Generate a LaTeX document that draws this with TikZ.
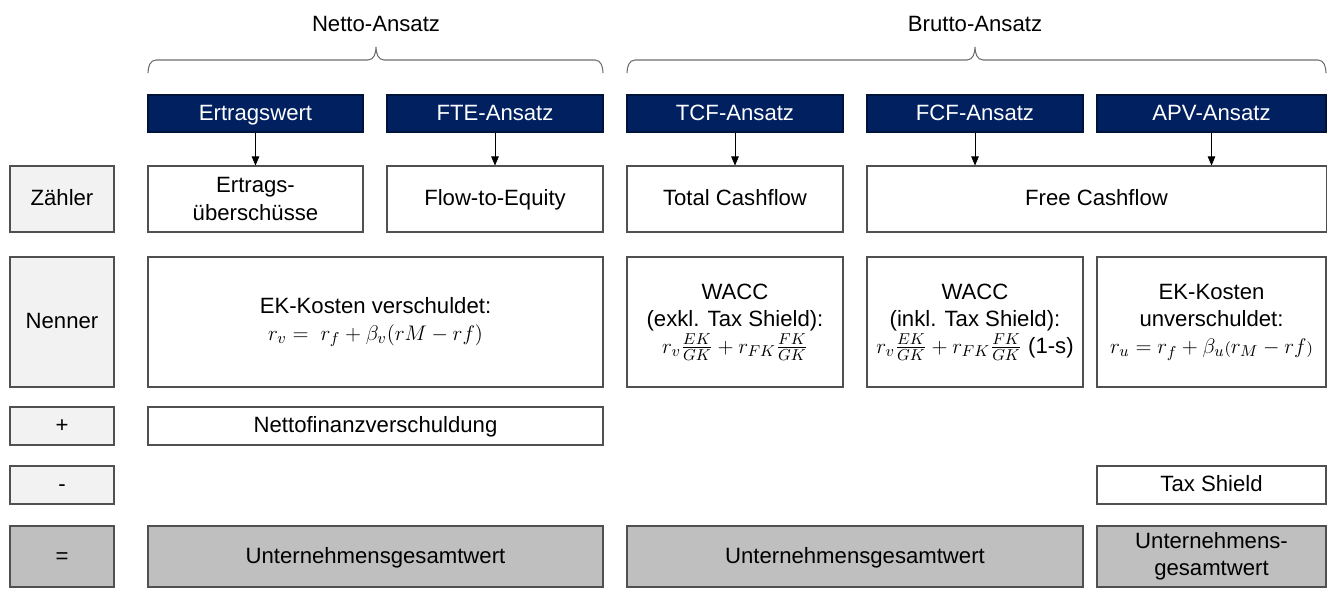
\documentclass[tikz,border=0pt]{standalone}
\usepackage{amsmath}
\usepackage{fontspec}
\setmainfont{Liberation Sans}
\usetikzlibrary{positioning}
\usetikzlibrary{arrows.meta}
\definecolor{navy}{RGB}{0,32,96}
\definecolor{lightgrey}{RGB}{242,242,242}
\definecolor{sumgrey}{RGB}{191,191,191}
\definecolor{framegrey}{RGB}{80,80,80}
\definecolor{bracegrey}{RGB}{110,110,110}

\begin{document}
\begin{tikzpicture}
[
x=0.2mm, y=-0.2mm,
font=\fontsize{12.6}{15.4}\selectfont,
box/.style={rectangle, draw=framegrey, line width=0.6pt, align=center, inner sep=0pt},
oneline/.style={text height=0.76em, text depth=0pt},
rowbox/.style={box, oneline, fill=lightgrey, minimum width=20.8mm},
head/.style={box, oneline, fill=navy, draw=navy!60!black, text=white, minimum height=7.4mm},
total/.style={box, fill=sumgrey, minimum height=12.2mm},
brace/.style={draw=bracegrey, line width=0.6pt},
>={Triangle[length=1.8mm, width=1.5mm]},
]
\useasboundingbox (0,0) rectangle (1330,588);

% Ansatz-Gruppen
\node (netto)  [oneline] at (376,25) {Netto-Ansatz};
\node (brutto) [oneline] at (975,25) {Brutto-Ansatz};
\draw [brace] (148,73) to[out=90,in=180] (156,60) -- (368,60) to[out=0,in=-90] (376,47)
  to[out=-90,in=180] (384,60) -- (595,60) to[out=0,in=90] (603,73);
\draw [brace] (627,73) to[out=90,in=180] (635,60) -- (967,60) to[out=0,in=-90] (975,47)
  to[out=-90,in=180] (983,60) -- (1318,60) to[out=0,in=90] (1326,73);

% Verfahren
\node (h1) [head, minimum width=43.0mm] at (255.5,113.5) {Ertragswert};
\node (h2) [head, minimum width=43.2mm] at (495,113.5)   {FTE-Ansatz};
\node (h3) [head, minimum width=43.2mm] at (735,113.5)   {TCF-Ansatz};
\node (h4) [head, minimum width=43.2mm] at (975,113.5)   {FCF-Ansatz};
\node (h5) [head, minimum width=45.8mm] at (1211.5,113.5) {APV-Ansatz};

% Zeilenbeschriftung
\node (lz) [rowbox, minimum height=13.2mm] at (62,199)   {Z\"ahler};
\node (ln) [rowbox, minimum height=26.0mm] at (62,322)   {Nenner};
\node (lp) [rowbox, minimum height=7.6mm]  at (62,426)   {+};
\node (lm) [rowbox, minimum height=7.6mm]  at (62,485)   {-};
\node (le) [rowbox, fill=sumgrey, minimum height=12.2mm] at (62,556.5) {=};

% Zaehler
\node (z1) [box, minimum width=43.0mm, minimum height=13.2mm] at (255.5,199) {Ertrags-\\\"ubersch\"usse};
\node (z2) [box, oneline, minimum width=43.2mm, minimum height=13.2mm] at (495,199)   {Flow-to-Equity};
\node (z3) [box, oneline, minimum width=43.2mm, minimum height=13.2mm] at (735,199)   {Total Cashflow};
\node (z4) [box, oneline, minimum width=91.8mm, minimum height=13.2mm] at (1096.5,199) {Free Cashflow};

% Nenner
\node (n1) [box, minimum width=91.0mm, minimum height=26mm] at (375.5,322)
  {EK-Kosten verschuldet:\\$r_v =\ r_f + \beta_v(rM - rf)$};
\node (n3) [box, minimum width=43.2mm, minimum height=26mm] at (735,322)
  {WACC\\(exkl. Tax Shield):\\$r_v\frac{EK}{GK} + r_{FK}\frac{FK}{GK}$};
\node (n4) [box, minimum width=43.2mm, minimum height=26mm] at (975,322)
  {WACC\\(inkl. Tax Shield):\\$r_v\frac{EK}{GK} + r_{FK}\frac{FK}{GK}$ (1-s)};
\node (n5) [box, minimum width=45.8mm, minimum height=26mm] at (1211.5,322)
  {EK-Kosten\\unverschuldet:\\$r_u = r_f + \beta_{u}{\scriptstyle(}r_M - rf{\scriptstyle)}$};

% Korrekturen
\node (p1) [box, oneline, minimum width=91.0mm, minimum height=7.6mm] at (375.5,426) {Nettofinanzverschuldung};
\node (m5) [box, oneline, minimum width=45.8mm, minimum height=7.6mm] at (1211.5,485) {Tax Shield};

% Ergebnis
\node (e1) [total, oneline, minimum width=91.0mm] at (375.5,556.5) {Unternehmensgesamtwert};
\node (e3) [total, oneline, minimum width=91.2mm] at (855,556.5)   {Unternehmensgesamtwert};
\node (e5) [total, minimum width=45.8mm] at (1211.5,556.5) {Unternehmens-\\gesamtwert\vphantom{U}};

\path [->] (h1) edge (z1);
\path [->] (h2) edge (z2);
\path [->] (h3) edge (z3);
\path [->] (h4) edge (h4 |- z4.north);
\path [->] (h5) edge (h5 |- z4.north);
\end{tikzpicture}
\end{document}
